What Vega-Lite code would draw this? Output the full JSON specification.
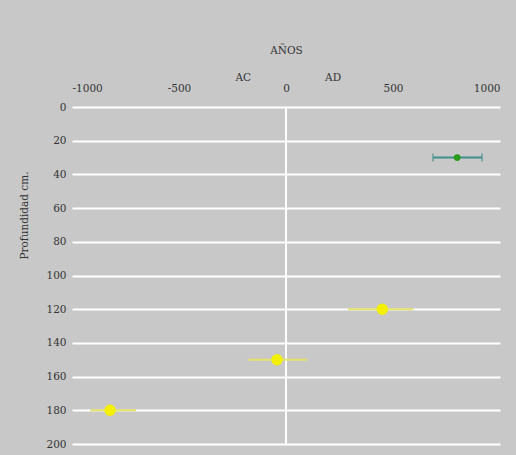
{
  "$schema": "https://vega.github.io/schema/vega-lite/v6.json",
  "width": 428,
  "height": 337,
  "autosize": "none",
  "padding": {"left": 72, "top": 107, "right": 16, "bottom": 11},
  "background": "#c8c8c8",
  "config": {
    "view": {"stroke": null},
    "font": "DejaVu Serif",
    "axis": {"labelFont": "DejaVu Serif", "titleFont": "DejaVu Serif", "labelColor": "#333", "titleColor": "#333", "labelFontSize": 10.5, "titleFontSize": 10.5, "titleFontWeight": "normal", "labelOverlap": false},
    "axisY": {"grid": true, "gridColor": "white", "gridWidth": 2, "gridOpacity": 1, "ticks": false, "domain": false, "labelPadding": 6, "titleY": 108, "titleX": -43},
    "axisX": {"grid": false, "ticks": false, "domain": false, "labelPadding": 14, "titlePadding": 28}
  },
  "datasets": {
    "pts": [
      {"year": 800, "depth": 30, "lo": 687, "hi": 916, "grp": "verde"},
      {"year": 450, "depth": 120, "lo": 290, "hi": 595, "grp": "amarillo"},
      {"year": -42, "depth": 150, "lo": -175, "hi": 100, "grp": "amarillo"},
      {"year": -822, "depth": 180, "lo": -915, "hi": -700, "grp": "amarillo"}
    ],
    "labels": [
      {"year": -200, "depth": -17, "t": "AC"},
      {"year": 220, "depth": -17, "t": "AD"}
    ]
  },
  "layer": [
    {
      "data": {"values": [{"z": 0}]},
      "mark": {"type": "rule", "color": "white", "strokeWidth": 2},
      "encoding": {"x": {"field": "z", "type": "quantitative", "axis": {"orient": "top", "title": "AÑOS", "values": [-1000, -500, 0, 500, 1000], "labelExpr": "'' + datum.value"}}}
    },
    {
      "data": {"name": "pts"},
      "mark": {"type": "rule", "strokeWidth": 2},
      "encoding": {
        "x": {"field": "lo", "type": "quantitative", "scale": {"domain": [-1000, 1000]}, "axis": {"orient": "top", "title": "AÑOS", "values": [-1000, -500, 0, 500, 1000], "labelExpr": "'' + datum.value"}},
        "x2": {"field": "hi"},
        "y": {"field": "depth", "type": "quantitative", "scale": {"domain": [0, 200], "reverse": true, "nice": false}, "axis": {"title": "Profundidad cm.", "values": [0, 20, 40, 60, 80, 100, 120, 140, 160, 180, 200]}},
        "color": {"field": "grp", "type": "nominal", "scale": {"domain": ["verde", "amarillo"], "range": ["#3f8f8a", "#e2e26a"]}, "legend": null}
      }
    },
    {
      "data": {"name": "pts"},
      "transform": [{"filter": "datum.grp == 'verde'"}, {"fold": ["lo", "hi"], "as": ["k", "v"]}],
      "mark": {"type": "tick", "orient": "vertical", "size": 8, "thickness": 1.5, "color": "#3f8f8a"},
      "encoding": {
        "x": {"field": "v", "type": "quantitative", "axis": {"orient": "top", "title": "AÑOS", "values": [-1000, -500, 0, 500, 1000], "labelExpr": "'' + datum.value"}},
        "y": {"field": "depth", "type": "quantitative", "axis": {"title": "Profundidad cm.", "values": [0, 20, 40, 60, 80, 100, 120, 140, 160, 180, 200]}}
      }
    },
    {
      "data": {"name": "pts"},
      "mark": {"type": "circle", "opacity": 1},
      "encoding": {
        "x": {"field": "year", "type": "quantitative", "axis": {"orient": "top", "title": "AÑOS", "values": [-1000, -500, 0, 500, 1000], "labelExpr": "'' + datum.value"}},
        "y": {"field": "depth", "type": "quantitative", "axis": {"title": "Profundidad cm.", "values": [0, 20, 40, 60, 80, 100, 120, 140, 160, 180, 200]}},
        "size": {"condition": {"test": "datum.grp == 'verde'", "value": 45}, "value": 130},
        "color": {"field": "grp", "type": "nominal", "scale": {"domain": ["verde", "amarillo"], "range": ["#2a9a1a", "#f4f000"]}, "legend": null}
      }
    },
    {
      "data": {"name": "labels"},
      "mark": {"type": "text", "fontSize": 10.5, "color": "#333", "clip": false},
      "encoding": {
        "x": {"field": "year", "type": "quantitative", "axis": {"orient": "top", "title": "AÑOS", "values": [-1000, -500, 0, 500, 1000], "labelExpr": "'' + datum.value"}},
        "y": {"field": "depth", "type": "quantitative", "axis": {"title": "Profundidad cm.", "values": [0, 20, 40, 60, 80, 100, 120, 140, 160, 180, 200]}},
        "text": {"field": "t"}
      }
    }
  ],
  "resolve": {"scale": {"color": "independent"}}
}
